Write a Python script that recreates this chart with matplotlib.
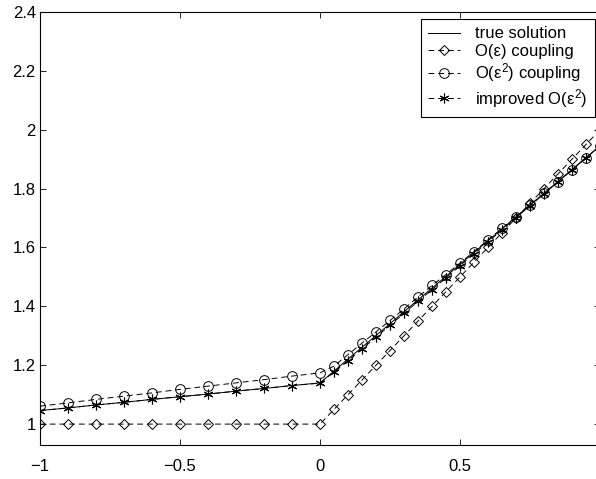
import matplotlib
matplotlib.use("Agg")
import matplotlib.pyplot as plt

plt.rcParams['font.family'] = ['Liberation Sans', 'DejaVu Sans']
plt.rcParams['mathtext.fontset'] = 'custom'
plt.rcParams['mathtext.rm'] = 'Liberation Sans'
plt.rcParams['mathtext.it'] = 'Liberation Sans:italic'

# ---- data ----
x_vals = [-1.0, -0.9, -0.8, -0.7, -0.6, -0.5, -0.4, -0.3, -0.2, -0.1, 0.0,
          0.05, 0.1, 0.15, 0.2, 0.25, 0.3, 0.35, 0.4, 0.45, 0.5,
          0.55, 0.6, 0.65, 0.7, 0.75, 0.8, 0.85, 0.9, 0.95, 1.0]

true_solution = [1.046, 1.055, 1.065, 1.074, 1.084, 1.093, 1.102, 1.112, 1.121, 1.131, 1.140,
                 1.180, 1.221, 1.261, 1.301, 1.341, 1.382, 1.422, 1.462, 1.502, 1.543,
                 1.583, 1.623, 1.663, 1.704, 1.744, 1.784, 1.824, 1.865, 1.905, 1.945]

coupling_o1 = [1.0, 1.0, 1.0, 1.0, 1.0, 1.0, 1.0, 1.0, 1.0, 1.0, 1.0,
               1.05, 1.10, 1.15, 1.20, 1.25, 1.30, 1.35, 1.40, 1.45, 1.50,
               1.55, 1.60, 1.65, 1.70, 1.75, 1.80, 1.85, 1.90, 1.95, 2.00]

coupling_o2 = [1.061, 1.072, 1.084, 1.095, 1.106, 1.118, 1.129, 1.140, 1.151, 1.163, 1.174,
               1.197, 1.236, 1.275, 1.313, 1.352, 1.391, 1.432, 1.471, 1.508, 1.547,
               1.586, 1.626, 1.665, 1.704, 1.744, 1.784, 1.824, 1.864, 1.905, 1.945]

improved_o2 = [1.046, 1.055, 1.065, 1.074, 1.084, 1.093, 1.102, 1.112, 1.121, 1.131, 1.139,
               1.177, 1.216, 1.255, 1.295, 1.336, 1.376, 1.417, 1.457, 1.497, 1.538,
               1.579, 1.619, 1.660, 1.701, 1.742, 1.782, 1.823, 1.863, 1.904, 1.944]

labels = ['true solution', 'O(ε) coupling', 'O(ε$^2$) coupling', 'improved O(ε$^2$)']

x_ticks = [-1, -0.5, 0, 0.5, 1]
x_tick_labels = ['\u22121', '\u22120.5', '0', '0.5', '']
y_ticks = [1.0, 1.2, 1.4, 1.6, 1.8, 2.0, 2.2, 2.4]
y_tick_labels = ['1', '1.2', '1.4', '1.6', '1.8', '2', '2.2', '2.4']

# ---- figure ----
W, H = 596, 479
fig = plt.figure(figsize=(W / 100, H / 100), dpi=100)
ax = fig.add_axes([40 / W, (H - 445) / H, 560 / W, 433 / H])

lw = 0.7
dash = (0, (6, 4))
ax.plot(x_vals, true_solution, color='k', lw=lw, ls='-', label=labels[0])
ax.plot(x_vals, coupling_o1, color='k', lw=lw, ls=dash, marker='D', ms=5.5,
        mfc='none', mec='k', mew=0.7, label=labels[1])
ax.plot(x_vals, coupling_o2, color='k', lw=lw, ls=dash, marker='o', ms=7,
        mfc='none', mec='k', mew=0.7, label=labels[2])
ax.plot(x_vals, improved_o2, color='k', lw=lw, ls=dash, marker=(6, 2, 0), ms=7,
        mec='k', mew=0.8, label=labels[3])

ax.set_xlim(-1, 1)
ax.set_ylim(0.929, 2.397)
ax.set_xticks(x_ticks)
ax.set_xticklabels(x_tick_labels)
ax.set_yticks(y_ticks)
ax.set_yticklabels(y_tick_labels)
ax.tick_params(direction='in', length=4, width=0.6, top=True, right=True,
               labelsize=12, colors='k')
ax.tick_params(axis='x', pad=10)
ax.tick_params(axis='y', pad=3)
for s in ax.spines.values():
    s.set_linewidth(0.8)

leg = ax.legend(loc='upper right', bbox_to_anchor=(595 / W, (H - 19) / H),
                bbox_transform=fig.transFigure, borderaxespad=0,
                fancybox=False, framealpha=1, edgecolor='k', fontsize=12,
                handlelength=1.9, handletextpad=0.9, labelspacing=0.15,
                borderpad=0.45, numpoints=1)
leg.get_frame().set_linewidth(0.8)

fig.savefig('out.png', dpi=100)
